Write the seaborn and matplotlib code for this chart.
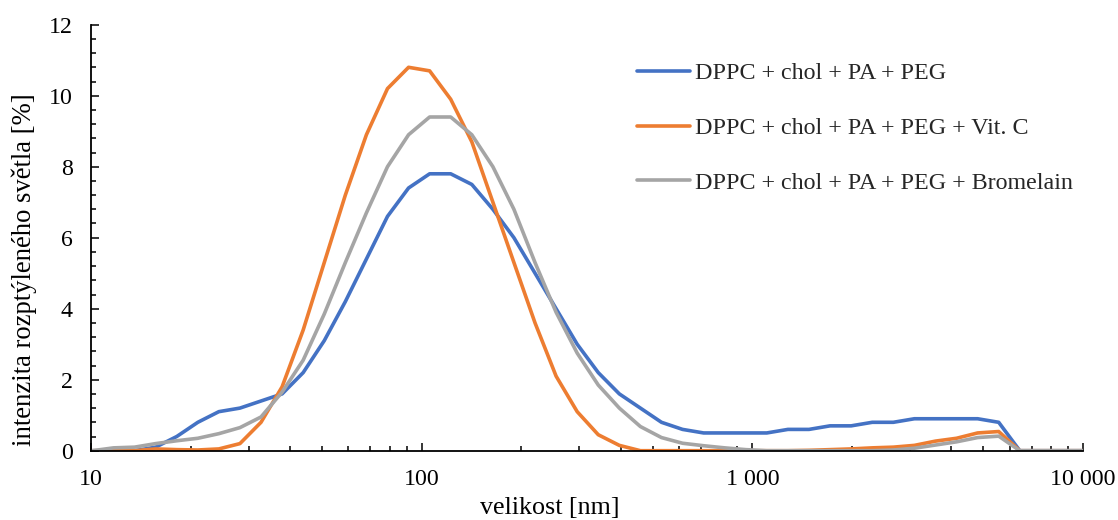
import numpy as np
import pandas as pd
import matplotlib
matplotlib.use("Agg")
import matplotlib.pyplot as plt
import matplotlib.ticker as mticker
import seaborn as sns

# ---- data ----
sizes = [10.1, 11.7, 13.54, 15.69, 18.17, 21.04, 24.36, 28.21, 32.67, 37.84,
         43.82, 50.75, 58.77, 68.06, 78.82, 91.28, 105.7, 122.4, 141.8, 164.2,
         190.1, 220.2, 255.0, 295.3, 342.0, 396.1, 458.7, 531.2, 615.1, 712.4,
         825.0, 955.4, 1106, 1281, 1484, 1718, 1990, 2305, 2669, 3091,
         3580, 4145, 4801, 5560, 6439, 7456, 8635, 10000]

peg = [0.0, 0.0, 0.0, 0.1, 0.4, 0.8, 1.1, 1.2, 1.4, 1.6,
       2.2, 3.1, 4.2, 5.4, 6.6, 7.4, 7.8, 7.8, 7.5, 6.8,
       6.0, 5.0, 4.0, 3.0, 2.2, 1.6, 1.2, 0.8, 0.6, 0.5,
       0.5, 0.5, 0.5, 0.6, 0.6, 0.7, 0.7, 0.8, 0.8, 0.9,
       0.9, 0.9, 0.9, 0.8, 0.0, 0.0, 0.0, 0.0]

vitc = [0.0, 0.0, 0.0, 0.05, 0.03, 0.02, 0.05, 0.2, 0.8, 1.8,
        3.4, 5.3, 7.2, 8.9, 10.2, 10.8, 10.7, 9.9, 8.7, 7.0,
        5.3, 3.6, 2.1, 1.1, 0.45, 0.15, 0.0, 0.0, 0.0, 0.0,
        0.0, 0.0, 0.0, 0.0, 0.01, 0.03, 0.05, 0.08, 0.1, 0.15,
        0.27, 0.35, 0.5, 0.54, 0.0, 0.0, 0.0, 0.0]

brom = [0.0, 0.08, 0.1, 0.2, 0.28, 0.35, 0.48, 0.65, 0.95, 1.65,
        2.55, 3.85, 5.3, 6.7, 8.0, 8.9, 9.4, 9.4, 8.9, 8.0,
        6.8, 5.3, 3.9, 2.75, 1.85, 1.2, 0.68, 0.37, 0.21, 0.14,
        0.08, 0.03, 0.0, 0.0, 0.0, 0.0, 0.0, 0.0, 0.02, 0.07,
        0.16, 0.25, 0.37, 0.41, 0.0, 0.0, 0.0, 0.0]

labels = ["DPPC + chol + PA + PEG",
          "DPPC + chol + PA + PEG + Vit. C",
          "DPPC + chol + PA + PEG + Bromelain"]
colors = ["#4472C4", "#ED7D31", "#A5A5A5"]

x_ticks = [10, 100, 1000, 10000]
y_ticks = [0, 2, 4, 6, 8, 10, 12]

df = pd.concat([
    pd.DataFrame({"size": sizes, "value": vals, "series": lab})
    for vals, lab in zip([peg, vitc, brom], labels)
], ignore_index=True)

# ---- style ----
sns.set_style("white")
plt.rcParams["font.family"] = ["Liberation Serif", "DejaVu Serif"]

fig = plt.figure(figsize=(11.18, 5.2), dpi=100)
ax = fig.add_axes([91/1118, 1 - 450.7/520, (1083 - 91)/1118, (450.7 - 24.7)/520])

sns.lineplot(data=df, x="size", y="value", hue="series", hue_order=labels,
             palette=colors, estimator=None, sort=False, linewidth=2.6,
             ax=ax, legend=False, solid_joinstyle="round", solid_capstyle="round")

ax.set_xscale("log")
ax.set_xlim(10, 10000)
ax.set_ylim(0, 12)
ax.set_xticks(x_ticks)
ax.xaxis.set_major_formatter(mticker.FuncFormatter(
    lambda v, p: format(int(round(v)), ",").replace(",", " ")))
ax.xaxis.set_minor_locator(mticker.LogLocator(base=10, subs=np.arange(2, 10)))
ax.xaxis.set_minor_formatter(mticker.NullFormatter())
ax.set_yticks(y_ticks)
ax.yaxis.set_minor_locator(mticker.MultipleLocator(0.4))

for s in ["top", "right"]:
    ax.spines[s].set_visible(False)
for s in ["left", "bottom"]:
    ax.spines[s].set_color("black")
    ax.spines[s].set_linewidth(1.3)

ax.tick_params(axis="both", which="major", direction="in", length=5.5, width=1.1,
               color="black", labelsize=17.2, pad=13, labelcolor="black")
ax.tick_params(axis="both", which="minor", direction="in", length=3.8, width=1.1,
               color="black")
ax.tick_params(axis="x", which="both", bottom=True)
ax.tick_params(axis="y", which="both", left=True)

ax.set_xlabel("velikost [nm]", fontsize=18.7, color="black")
ax.xaxis.label.set_va("center")
ax.xaxis.set_label_coords((549.5 - 91) / 992, (450.7 - 508) / 426)
ax.set_ylabel("intenzita rozptýleného světla [%]", fontsize=19.2, color="black")
ax.yaxis.label.set_va("center")
ax.yaxis.set_label_coords((24.2 - 91) / 992, (450.7 - 270) / 426)
ax.grid(False)

handles = [plt.Line2D([], [], color=c, linewidth=2.6, solid_capstyle="round") for c in colors]
fig.legend(handles, labels, loc="upper left", bbox_to_anchor=(637/1118, 1 - 62.5/520),
           frameon=False, fontsize=17.3, handlelength=2.2, handletextpad=0.2,
           labelspacing=1.37, borderpad=0, borderaxespad=0)

fig.savefig("out.png", dpi=100)
